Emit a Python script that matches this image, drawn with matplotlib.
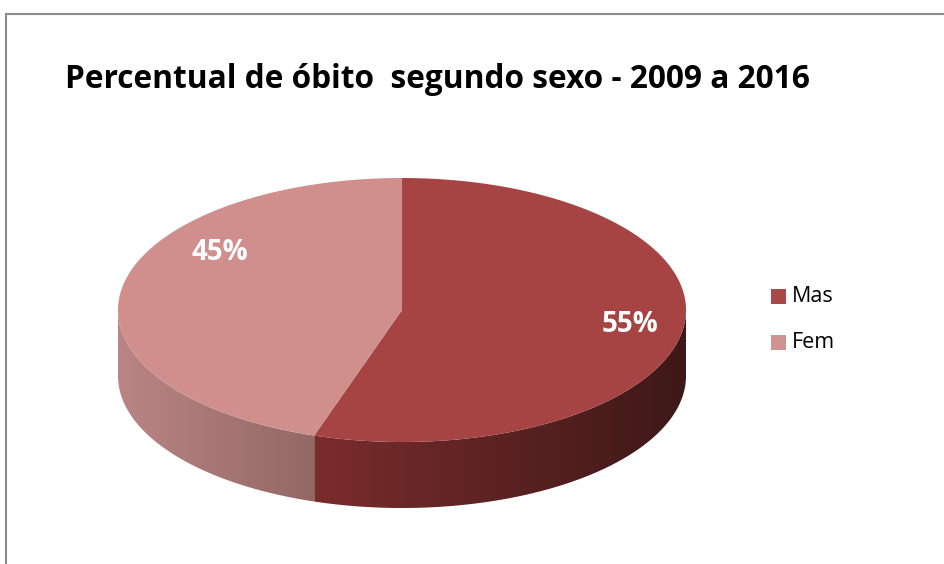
import numpy as np
import matplotlib
matplotlib.use("Agg")
import matplotlib.pyplot as plt
from matplotlib.patches import Polygon, Rectangle
from matplotlib.colors import LinearSegmentedColormap

title = "Percentual de óbito  segundo sexo - 2009 a 2016"
labels = ["Mas", "Fem"]
values = [55, 45]
top_colors = ["#A64443", "#D08E8D"]
legend_colors = ["#A84948", "#D09392"]
side_grad = [("#7A2C2C", "#3E1818"), ("#BA8584", "#926867")]

# pie geometry in pixels
cx, cy = 402, 310
rx, ry = 284, 132
depth = 66

fig = plt.figure(figsize=(9.44, 5.64), dpi=100)
ax = fig.add_axes([0, 0, 1, 1])
ax.set_xlim(0, 944)
ax.set_ylim(564, 0)
ax.axis("off")


def pt(theta_deg, dy=0.0):
    t = np.radians(theta_deg)
    return cx + rx * np.sin(t), cy - ry * np.cos(t) + dy


total = float(sum(values))
bounds = np.concatenate([[0], np.cumsum(values) / total * 360])

# side walls (only front half, 90..270 deg clockwise from top)
for i in range(len(values)):
    a, b = max(bounds[i], 90), min(bounds[i + 1], 270)
    if a >= b:
        continue
    th = np.linspace(a, b, 200)
    x1, y1 = pt(th)
    x2, y2 = pt(th[::-1], depth)
    verts = np.column_stack([np.concatenate([x1, x2]), np.concatenate([y1, y2])])
    poly = Polygon(verts, closed=True, facecolor="none", edgecolor="none")
    ax.add_patch(poly)
    cmap = LinearSegmentedColormap.from_list("s%d" % i, side_grad[i])
    xmin, xmax = verts[:, 0].min(), verts[:, 0].max()
    ymin, ymax = verts[:, 1].min(), verts[:, 1].max()
    grad = np.linspace(0, 1, 256)[None, :]
    im = ax.imshow(grad, cmap=cmap, extent=[xmin, xmax, ymax, ymin],
                   aspect="auto", zorder=1)
    im.set_clip_path(poly)

# top faces
for i in range(len(values)):
    th = np.linspace(bounds[i], bounds[i + 1], 300)
    x, y = pt(th)
    verts = np.column_stack([np.concatenate([[cx], x]), np.concatenate([[cy], y])])
    ax.add_patch(Polygon(verts, closed=True, facecolor=top_colors[i],
                         edgecolor="none", zorder=2))

# percentage labels
label_pos = [(630, 325), (220, 253)]
for i, v in enumerate(values):
    ax.text(label_pos[i][0], label_pos[i][1], "%d%%" % round(v / total * 100),
            color="white", fontsize=20, fontweight="bold", family="Open Sans",
            ha="center", va="center", zorder=3)

# legend
leg_y = [296, 342]
for i, lab in enumerate(labels):
    ax.add_patch(Rectangle((771, leg_y[i] - 7.5), 15, 15, facecolor=legend_colors[i],
                           edgecolor="none"))
    ax.text(792, leg_y[i], lab, fontsize=15.5, family="Open Sans",
            ha="left", va="center", color="black")

# title
ax.text(65, 80, title, fontsize=22.8, fontweight="bold", family="Open Sans",
        ha="left", va="center", color="black")

# chart border
ax.plot([5.5, 5.5, 944], [564, 13.5, 13.5], color="#8C8C8C", lw=1.5,
        solid_joinstyle="miter")

fig.savefig("out.png", dpi=100)
